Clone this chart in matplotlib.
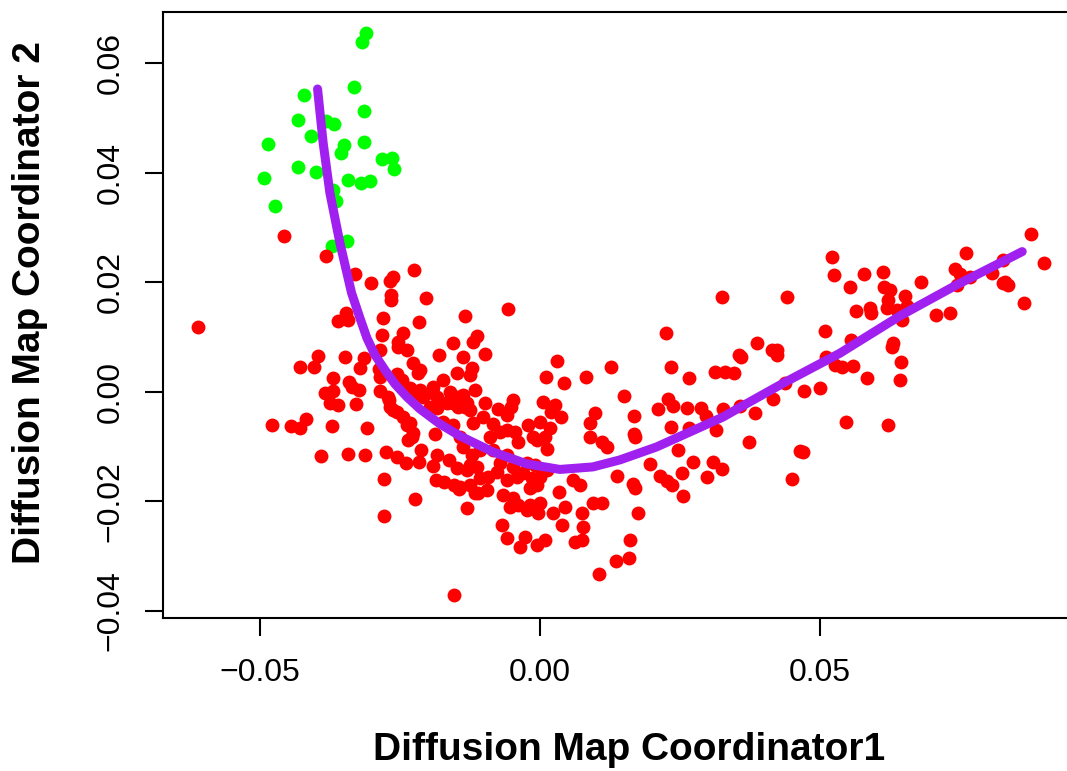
import matplotlib
matplotlib.use("Agg")
import matplotlib.pyplot as plt

plt.rcParams["font.family"] = ["Liberation Sans", "DejaVu Sans"]

# early-state cells (green)
green_x = [-0.03107, -0.03179, -0.03321, -0.04214, -0.03143, -0.04321, -0.03821, -0.03679, -0.04089,
           -0.04857, -0.03500, -0.03554, -0.03143, -0.02821, -0.02643, -0.02607, -0.04321, -0.04000,
           -0.04929, -0.03429, -0.03196, -0.03036, -0.03696, -0.03643, -0.04732, -0.03714, -0.03446]
green_y = [0.06557, 0.06393, 0.05576, 0.05425, 0.05132, 0.04968, 0.04950, 0.04895, 0.04676,
           0.04530, 0.04511, 0.04365, 0.04566, 0.04256, 0.04274, 0.04073, 0.04110, 0.04018,
           0.03909, 0.03872, 0.03817, 0.03854, 0.03690, 0.03494, 0.03403, 0.02672, 0.02758]

# remaining cells (red)
red_x = [-0.04577, -0.03816, -0.03304, -0.03018, -0.02679, -0.02625, -0.02255, -0.02666, -0.02666, -0.02041,
         -0.03613, -0.03464, -0.03429, -0.02798, -0.02161, -0.01334, -0.00577, -0.06113, -0.02827, -0.02446,
         -0.02530, -0.02530, -0.02380, -0.02857, -0.01548, -0.01798, -0.01191, -0.01130, -0.01380, -0.00988,
         -0.03959, -0.04286, -0.04030, -0.03482, -0.03138, -0.03214, -0.02870, -0.02857, -0.02554, -0.02470,
         -0.02263, -0.02143, -0.02173, -0.03691, -0.03405, -0.03363, -0.03227, -0.01488, -0.01250, -0.01220,
         -0.01727, -0.01905, -0.01607, -0.01161, -0.01370, -0.03839, -0.03691, -0.02857, -0.02709, -0.02321,
         -0.02143, -0.02263, -0.02084, -0.01905, -0.01845, -0.03750, -0.03602, -0.03286, -0.02691, -0.02679,
         -0.02620, -0.02559, -0.02441, -0.02321, -0.02263, -0.02291, -0.02352, -0.02380, -0.01964, -0.01845,
         -0.01666, -0.01548, -0.01488, -0.01309, -0.01250, -0.01459, -0.01638, -0.04780, -0.04452, -0.04286,
         -0.04184, -0.03709, -0.03084, -0.01875, -0.01727, -0.01548, -0.01191, -0.03916, -0.03434, -0.03125,
         -0.02750, -0.02559, -0.02393, -0.02155, -0.02130, -0.01845, -0.01905, -0.01625, -0.01488, -0.01250,
         -0.02780, -0.01857, -0.01714, -0.01536, -0.01446, -0.01161, -0.02232, -0.02786, -0.01309, -0.01536,
         0.00107, 0.00434, 0.00816, 0.01277, 0.00298, -0.01429, -0.01339, -0.00982, -0.00745, -0.00477,
         -0.00518, -0.00595, 0.00059, 0.00268, 0.00371, 0.00196, 0.00000, -0.00209, 0.00179, 0.00089,
         -0.00059, 0.00120, -0.00120, -0.00446, -0.00388, 0.00982, 0.00893, 0.00893, 0.01102, 0.01191,
         -0.01013, -0.00834, -0.00714, -0.00893, -0.00595, -0.01429, -0.01370, -0.01220, -0.01071, -0.00834,
         -0.00595, -0.00714, -0.00477, -0.00238, -0.00089, 0.00120, -0.01309, -0.01130, -0.01071, -0.00923,
         -0.00773, -0.01429, -0.01250, -0.01102, -0.00952, -0.00595, -0.00416, -0.00298, -0.00148, 0.00000,
         -0.00179, -0.00059, -0.00655, -0.00477, -0.00536, -0.00388, -0.00179, 0.00000, -0.00030, -0.00238,
         0.00339, 0.00595, 0.00714, 0.00238, 0.00446, 0.00388, -0.00684, -0.00595, -0.00357, -0.00268,
         -0.00059, 0.00089, 0.00750, 0.00773, 0.00625, 0.00750, 0.00952, 0.01102, 0.01370, 0.01666,
         0.01696, 0.01495, 0.01673, 0.01679, 0.01696, 0.01750, 0.01607, 0.01595, 0.01357, 0.01059,
         0.02255, 0.02339, 0.02666, 0.03125, 0.03304, 0.03464, 0.02286, 0.02375, 0.02116, 0.02620,
         0.02879, 0.02970, 0.02339, 0.02661, 0.03277, 0.03571, 0.03148, 0.02464, 0.02741, 0.03095,
         0.03245, 0.02982, 0.02545, 0.02559, 0.01964, 0.02143, 0.02263, 0.02366, 0.03245, 0.03559,
         0.03589, 0.03870, 0.04138, 0.04238, 0.04227, 0.04411, 0.04375, 0.04714, 0.05000, 0.04166,
         0.03839, 0.03732, 0.04643, 0.04702, 0.04495, 0.05464, 0.06209, 0.05089, 0.05548, 0.05107,
         0.05268, 0.05388, 0.05584, 0.05834, 0.05220, 0.05255, 0.05786, 0.05530, 0.06130, 0.06143,
         0.06250, 0.06518, 0.06220, 0.06191, 0.06370, 0.06548, 0.05643, 0.05893, 0.05905, 0.06459,
         0.06309, 0.06280, 0.06446, 0.06429, 0.06813, 0.07066, 0.07327, 0.07616, 0.07411, 0.07500,
         0.07679, 0.07441, 0.08080, 0.08277, 0.08304, 0.08366, 0.08273, 0.08763, 0.09000, 0.08648]
red_y = [0.02844, 0.02484, 0.02150, 0.01996, 0.02033, 0.02106, 0.02223, 0.01772, 0.01680, 0.01722,
         0.01302, 0.01437, 0.01315, 0.01352, 0.01284, 0.01394, 0.01511, 0.01193, 0.01041, 0.01083,
         0.00919, 0.00827, 0.00767, 0.00767, 0.00900, 0.00676, 0.00919, 0.01023, 0.00634, 0.00694,
         0.00658, 0.00451, 0.00462, 0.00634, 0.00616, 0.00433, 0.00415, 0.00279, 0.00329, 0.00219,
         0.00524, 0.00402, 0.00342, 0.00250, 0.00188, 0.00097, 0.00037, 0.00353, 0.00311, 0.00433,
         0.00219, 0.00086, 0.00005, 0.00037, -0.00055, -0.00024, 0.00024, 0.00018, -0.00086, 0.00068,
         0.00037, -0.00086, -0.00086, -0.00024, -0.00086, -0.00206, -0.00237, -0.00219, -0.00146, -0.00268,
         -0.00329, -0.00360, -0.00451, -0.00572, -0.00754, -0.00816, -0.00877, -0.00603, -0.00268, -0.00298,
         -0.00206, -0.00206, -0.00086, -0.00206, -0.00329, -0.00268, -0.00177, -0.00603, -0.00621, -0.00663,
         -0.00499, -0.00616, -0.00663, -0.00767, -0.00557, -0.00603, -0.00572, -0.01169, -0.01138, -0.01151,
         -0.01090, -0.01196, -0.01302, -0.01279, -0.01059, -0.01151, -0.01355, -0.01242, -0.01394, -0.01333,
         -0.01595, -0.01607, -0.01638, -0.01699, -0.01772, -0.01850, -0.01960, -0.02259, -0.02124, -0.03708,
         0.00265, 0.00159, 0.00265, 0.00457, 0.00566, -0.00115, -0.00268, -0.00206, -0.00311, -0.00146,
         -0.00283, -0.00420, -0.00177, -0.00247, -0.00457, -0.00360, -0.00557, -0.00603, -0.00663, -0.00816,
         -0.00877, -0.01041, -0.00816, -0.00725, -0.00908, -0.00389, -0.00572, -0.00816, -0.00913, -0.00999,
         -0.00466, -0.00584, -0.00725, -0.00816, -0.00694, -0.00816, -0.00999, -0.01151, -0.01059, -0.01059,
         -0.01151, -0.01302, -0.01364, -0.01302, -0.01333, -0.01425, -0.01425, -0.01364, -0.01576, -0.01547,
         -0.01456, -0.01730, -0.01699, -0.01850, -0.01790, -0.01607, -0.01547, -0.01485, -0.01576, -0.01547,
         -0.01759, -0.01699, -0.01881, -0.01942, -0.02095, -0.02064, -0.02064, -0.02033, -0.02216, -0.02155,
         -0.01821, -0.01607, -0.01699, -0.02205, -0.02106, -0.02429, -0.02429, -0.02672, -0.02826, -0.02643,
         -0.02795, -0.02703, -0.02216, -0.02466, -0.02734, -0.02703, -0.02033, -0.02033, -0.01543, -0.01680,
         -0.01753, -0.00068, -0.00438, -0.00767, -0.00822, -0.02216, -0.02703, -0.03037, -0.03081, -0.03324,
         0.01068, 0.00451, 0.00250, 0.00371, 0.00356, 0.00338, -0.00137, -0.00256, -0.00316, -0.00287,
         -0.00287, -0.00447, -0.00634, -0.00663, -0.00305, -0.00265, -0.00694, -0.01059, -0.01273, -0.01273,
         -0.01412, -0.01547, -0.01485, -0.01894, -0.01321, -0.01534, -0.01626, -0.01699, 0.01741, 0.00676,
         0.00639, 0.00889, 0.00767, 0.00758, 0.00676, 0.01741, 0.00159, 0.00018, 0.00073, -0.00137,
         -0.00389, -0.00908, -0.01072, -0.01101, -0.01584, -0.00542, -0.00597, 0.01114, 0.00950, 0.00645,
         0.00493, 0.00451, 0.00475, 0.00250, 0.02471, 0.02137, 0.02155, 0.01923, 0.02197, 0.01912,
         0.01863, 0.01753, 0.01671, 0.01529, 0.01498, 0.01571, 0.01479, 0.01529, 0.01437, 0.01306,
         0.00900, 0.00827, 0.00548, 0.00219, 0.02004, 0.01406, 0.01448, 0.02533, 0.02252, 0.02155,
         0.02100, 0.01945, 0.02168, 0.02411, 0.02015, 0.01954, 0.01991, 0.02886, 0.02351, 0.01631]

# fitted trajectory
curve_x = [-0.03970, -0.03870, -0.03750, -0.03571, -0.03363, -0.03214, -0.03089, -0.02946, -0.02768,
           -0.02589, -0.02375, -0.02143, -0.01786, -0.01429, -0.00839, -0.00232, 0.00357, 0.00946,
           0.01429, 0.02084, 0.02679, 0.03273, 0.03571, 0.04345, 0.05357, 0.06429, 0.07441, 0.08613]
curve_y = [0.05534, 0.04548, 0.03635, 0.02722, 0.01808, 0.01352, 0.00986, 0.00676, 0.00402,
           0.00146, -0.00091, -0.00311, -0.00584, -0.00804, -0.01096, -0.01315, -0.01416, -0.01370,
           -0.01242, -0.01005, -0.00731, -0.00457, -0.00283, 0.00159, 0.00707, 0.01388, 0.01954, 0.02563]

xticks = [-0.05, 0.0, 0.05]
xlabels = ["\u22120.05", "0.00", "0.05"]
yticks = [-0.04, -0.02, 0.0, 0.02, 0.04, 0.06]
ylabels = ["\u22120.04", "\u22120.02", "0.00", "0.02", "0.04", "0.06"]

fig = plt.figure(figsize=(10.67, 7.71), dpi=100)
ax = fig.add_axes([163/1067, 153/771, 914.5/1067, 606/771])

ax.plot(green_x, green_y, 'o', color='#00FF00', ms=10, mew=0)
ax.plot(red_x, red_y, 'o', color='#FF0000', ms=10, mew=0)
ax.plot(curve_x, curve_y, '-', color='#A020F0', lw=6.5,
        solid_capstyle='round', solid_joinstyle='round')

ax.set_xlim(-0.0673, 0.0960)
ax.set_ylim(-0.0413, 0.0694)
ax.set_xticks(xticks)
ax.set_xticklabels(xlabels)
ax.set_yticks(yticks)
ax.set_yticklabels(ylabels, rotation=90, va='center')

ax.tick_params(axis='both', length=13, width=1.5, labelsize=23, color='black')
ax.tick_params(axis='x', pad=16)
ax.tick_params(axis='y', pad=14)
for s in ax.spines.values():
    s.set_linewidth(1.5)

ax.set_xlabel("Diffusion Map Coordinator1", fontsize=28, fontweight='bold')
ax.xaxis.set_label_coords(0.51, -0.218)
ax.xaxis.label.set_va('center')
ax.set_ylabel("Diffusion Map Coordinator 2", fontsize=28, fontweight='bold')
ax.yaxis.set_label_coords(-0.1454, 0.52)
ax.yaxis.label.set_va('center')

plt.savefig("out.png", dpi=100)
